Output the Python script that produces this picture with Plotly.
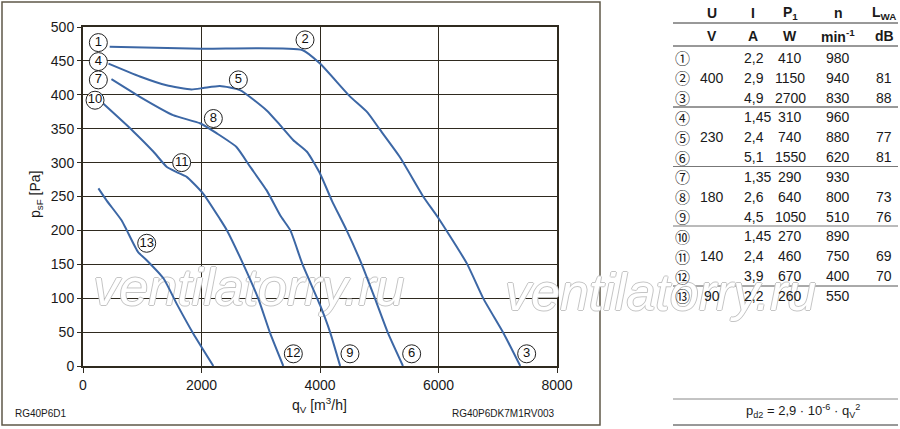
import plotly.graph_objects as go

# Fan curves: airflow q_V [m3/h] vs. static pressure p_sF [Pa]
q_400 = [450, 2000, 3700, 4000, 4500, 4800, 5000, 5350, 5750, 6000, 6480, 6760, 7100, 7380]
p_400 = [471, 468, 466, 446, 398, 374, 350, 308, 249, 218, 151, 99, 48, 0]

q_230 = [430, 960, 1410, 1830, 2030, 2310, 2650, 3100, 3330, 3550, 3780, 4000,
         4200, 4450, 4700, 4930, 5150, 5400]
p_230 = [446, 427, 414, 408, 410, 413, 407, 377, 355, 333, 316, 284,
         244, 200, 151, 99, 48, 0]

q_180 = [480, 960, 1520, 1975, 2260, 2590, 2820, 3100, 3330, 3500, 3700, 4000, 4170, 4340]
p_180 = [423, 397, 370, 358, 343, 323, 294, 259, 222, 200, 151, 90, 50, 0]

q_140 = [340, 850, 1190, 1410, 1580, 1750, 2030, 2310, 2430, 2700, 2960, 3160, 3380]
p_140 = [387, 346, 316, 294, 286, 279, 254, 217, 200, 151, 99, 48, 0]

q_90 = [260, 400, 650, 740, 930, 1075, 1360, 1580, 1860, 2200]
p_90 = [262, 244, 215, 200, 168, 156, 129, 92, 48, 0]

# operating point markers (circled numbers)
lab_text = [str(i) for i in range(1, 14)]
lab_q = [259, 3747, 7488, 259, 2622, 5547, 259, 2200, 4506, 203, 1665, 3550, 1075]
lab_p = [477, 481, 18, 449, 422, 18, 422, 365, 18, 392, 300, 18, 181]

# table values
circ = ["①", "②", "③", "④", "⑤", "⑥", "⑦", "⑧", "⑨", "⑩", "⑪", "⑫", "⑬"]
volt = ["", "400", "", "", "230", "", "", "180", "", "", "140", "", "90"]
amps = ["2,2", "2,9", "4,9", "1,45", "2,4", "5,1", "1,35", "2,6", "4,5", "1,45", "2,4", "3,9", "2,2"]
power = [410, 1150, 2700, 310, 740, 1550, 290, 640, 1050, 270, 460, 670, 260]
speed = [980, 940, 830, 960, 880, 620, 930, 800, 510, 890, 750, 400, 550]
noise = ["", "81", "88", "", "77", "81", "", "73", "76", "", "69", "70", ""]

FONT = "Liberation Sans, Arial, sans-serif"
BLUE = "#3c67a5"
GRID = "#2f2a1f"
WM_FONT = dict(family=FONT, size=52, style="italic", color="white",
               shadow="1px 0 0 #c4c4c4, -1px 0 0 #c4c4c4, 0 1px 0 #c4c4c4, 0 -1px 0 #c4c4c4")

# plot area in pixels
L, R, T, B = 83, 557, 27, 366


def px(x):
    return (x - L) / (R - L)


def py(y):
    return (B - y) / (B - T)


fig = go.Figure()

# watermark inside the plot as a text trace so the curves are drawn over it
fig.add_trace(go.Scatter(
    x=[2800], y=[109], mode="text", text=["ventilatorry.ru"],
    textposition="middle center", textfont=WM_FONT,
    cliponaxis=False, hoverinfo="skip", showlegend=False))

for q, p in [(q_400, p_400), (q_230, p_230), (q_180, p_180), (q_140, p_140), (q_90, p_90)]:
    fig.add_trace(go.Scatter(x=q, y=p, mode="lines",
                             line=dict(color=BLUE, width=2, shape="spline", smoothing=0.5),
                             hoverinfo="skip", showlegend=False))

fig.add_trace(go.Scatter(
    x=lab_q, y=lab_p, mode="markers+text", text=lab_text,
    textposition="middle center", textfont=dict(family=FONT, size=13, color="#111"),
    marker=dict(size=18, color="white", line=dict(color="#222", width=1)),
    cliponaxis=False, hoverinfo="skip", showlegend=False))

ann = []

# second watermark over the table area (first, so table text sits on top)
ann.append(dict(text="ventilatorry.ru", x=px(660), y=py(292), xref="paper", yref="paper",
                xanchor="center", yanchor="middle", showarrow=False, font=WM_FONT))


def txt(s, x, y, size=14, anchor="center", bold=False, **kw):
    ann.append(dict(text=s, x=px(x), y=py(y), xref="paper", yref="paper",
                    xanchor=anchor, yanchor="middle", showarrow=False,
                    font=dict(family=kw.pop("family", FONT), size=size, color="#1a1a1a",
                              weight="bold" if bold else "normal"), **kw))


# axis titles
txt("p<sub>sF</sub> [Pa]", 36, 195, size=14, textangle=-90)
txt("q<sub>V</sub> [m<sup>3</sup>/h]", 319, 405, size=14)
txt("RG40P6D1", 13, 413, size=10, anchor="left")
txt("RG40P6DK7M1RV003", 557, 413, size=10, anchor="right")

# table
cols = dict(c=682, u=712, i=742, p=790, n=838, l=884)
txt("U", cols["u"], 13, bold=True)
txt("I", 753, 13, bold=True)
txt("P<sub>1</sub>", cols["p"], 13, bold=True)
txt("n", cols["n"], 13, bold=True)
txt("L<sub>WA</sub>", cols["l"], 13, bold=True)
txt("V", cols["u"], 36, bold=True)
txt("A", 753, 36, bold=True)
txt("W", cols["p"], 36, bold=True)
txt("min<sup>-1</sup>", cols["n"], 36, bold=True)
txt("dB", cols["l"], 36, bold=True)

row0, step = 58, 19.83
for k in range(13):
    y = row0 + k * step
    txt(circ[k], cols["c"], y, size=15, family="Noto Sans CJK JP")
    if volt[k]:
        txt(volt[k], cols["u"], y)
    txt(amps[k], cols["i"], y, anchor="left")
    txt(str(power[k]), cols["p"], y)
    txt(str(speed[k]), cols["n"], y)
    if noise[k]:
        txt(noise[k], cols["l"], y)

txt("p<sub>d2</sub> = 2,9 · 10<sup>-6</sup> · q<sub>V</sub><sup>2</sup>", 803, 411, size=13)

shapes = [dict(type="rect", xref="paper", yref="paper", x0=px(2), x1=px(600), y0=py(425), y1=py(2),
               line=dict(color="#5f5848", width=1.5), layer="below")]
for yl, col in [(23, "#333"), (46, "#333"), (107, "#333"), (166.5, "#777"), (226, "#777"),
                (286, "#555"), (399, "#888"), (425, "#333")]:
    shapes.append(dict(type="line", xref="paper", yref="paper", x0=px(673), x1=px(898),
                       y0=py(yl), y1=py(yl), line=dict(color=col, width=1)))

fig.update_layout(
    width=900, height=429,
    margin=dict(l=L, r=900 - R, t=T, b=429 - B),
    paper_bgcolor="white", plot_bgcolor="white",
    font=dict(family=FONT, size=14, color="#1a1a1a"),
    annotations=ann, shapes=shapes,
    xaxis=dict(range=[0, 8000], tickvals=[0, 2000, 4000, 6000, 8000], showgrid=True,
               gridcolor=GRID, gridwidth=1.3, showline=True, linecolor=GRID, linewidth=2,
               mirror=True, zeroline=False, ticks="outside", ticklen=5, tickcolor=GRID,
               tickfont=dict(size=14), fixedrange=True),
    yaxis=dict(range=[0, 500], dtick=50, showgrid=True, gridcolor=GRID, gridwidth=1.3,
               showline=True, linecolor=GRID, linewidth=2, mirror=True, zeroline=False,
               ticks="outside", ticklen=4, tickcolor=GRID, tickfont=dict(size=14),
               fixedrange=True),
)

fig.write_html("out.html", config={"displayModeBar": False},
               post_script="document.body.style.margin='0';")
